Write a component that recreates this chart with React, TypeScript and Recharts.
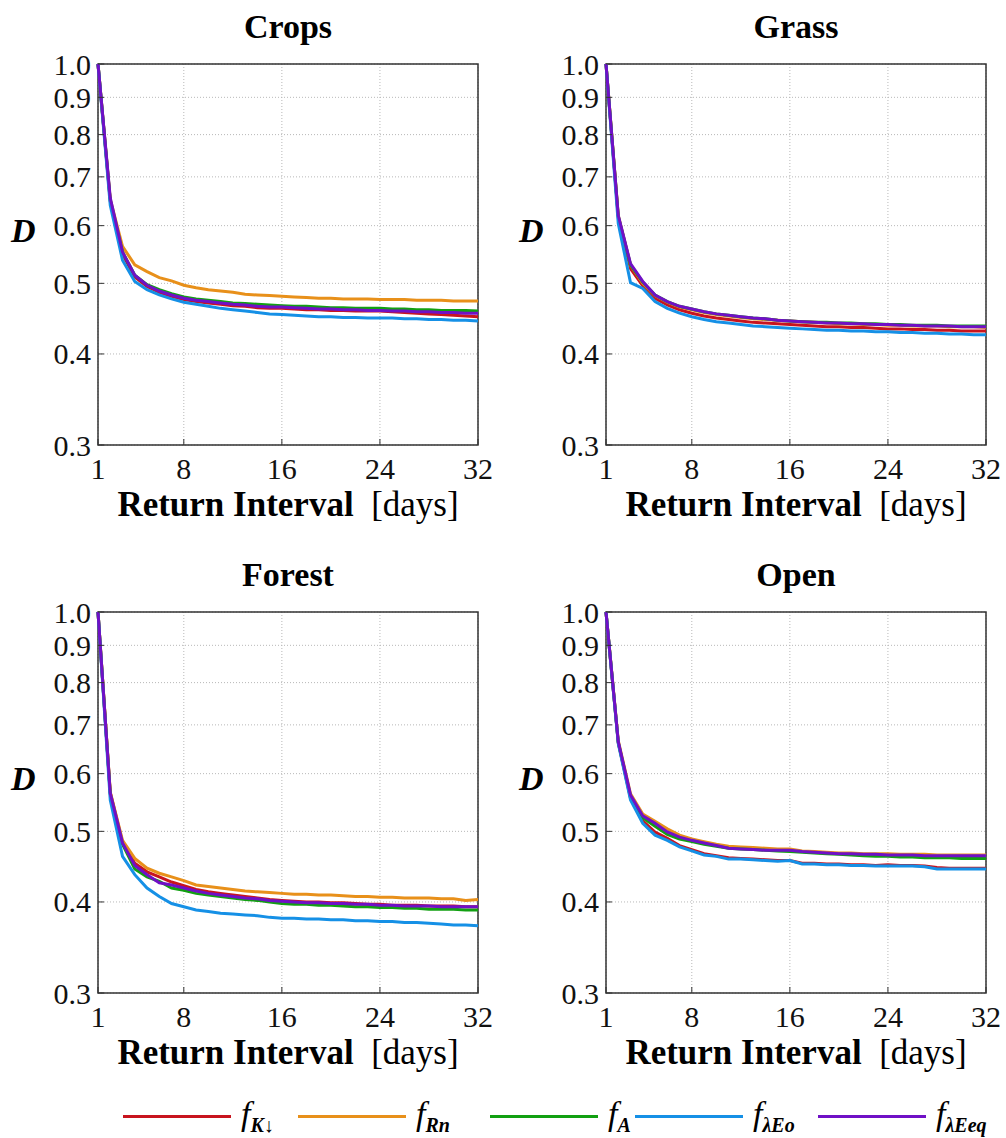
import React from 'react'
import { LineChart, Line, XAxis, YAxis, CartesianGrid, ReferenceArea } from 'recharts'

// Return interval (days)
const days = [1, 2, 3, 4, 5, 6, 7, 8, 9, 10, 11, 12, 13, 14, 15, 16, 17, 18, 19, 20, 21, 22, 23, 24, 25, 26, 27, 28, 29, 30, 31, 32]

const xTicks = [1, 8, 16, 24, 32]
const yTicks = [0.3, 0.4, 0.5, 0.6, 0.7, 0.8, 0.9, 1.0]

// Crops
const cropsK = [1.0, 0.648, 0.548, 0.510, 0.495, 0.486, 0.480, 0.475, 0.472, 0.470, 0.468, 0.466, 0.465, 0.463, 0.462, 0.462, 0.461, 0.460, 0.460, 0.459, 0.459, 0.458, 0.458, 0.458, 0.457, 0.456, 0.455, 0.454, 0.453, 0.452, 0.451, 0.450]
const cropsRn = [1.0, 0.652, 0.562, 0.530, 0.519, 0.509, 0.504, 0.497, 0.493, 0.490, 0.488, 0.486, 0.483, 0.482, 0.481, 0.480, 0.479, 0.478, 0.477, 0.477, 0.476, 0.476, 0.476, 0.475, 0.475, 0.475, 0.474, 0.474, 0.474, 0.473, 0.473, 0.473]
const cropsA = [1.0, 0.650, 0.552, 0.513, 0.498, 0.490, 0.484, 0.479, 0.476, 0.474, 0.472, 0.470, 0.469, 0.468, 0.467, 0.466, 0.465, 0.465, 0.464, 0.463, 0.463, 0.462, 0.462, 0.462, 0.461, 0.461, 0.460, 0.460, 0.459, 0.459, 0.459, 0.458]
const cropsEo = [1.0, 0.640, 0.538, 0.503, 0.490, 0.482, 0.476, 0.471, 0.468, 0.465, 0.462, 0.460, 0.458, 0.456, 0.454, 0.453, 0.452, 0.451, 0.450, 0.450, 0.449, 0.449, 0.448, 0.448, 0.448, 0.447, 0.447, 0.446, 0.446, 0.445, 0.445, 0.444]
const cropsEeq = [1.0, 0.655, 0.552, 0.513, 0.497, 0.488, 0.482, 0.477, 0.474, 0.472, 0.470, 0.468, 0.467, 0.465, 0.464, 0.464, 0.463, 0.462, 0.461, 0.461, 0.460, 0.460, 0.459, 0.459, 0.458, 0.458, 0.457, 0.457, 0.456, 0.456, 0.455, 0.455]

// Grass
const grassK = [1.0, 0.615, 0.524, 0.496, 0.477, 0.467, 0.460, 0.455, 0.451, 0.448, 0.446, 0.444, 0.442, 0.441, 0.440, 0.439, 0.438, 0.437, 0.436, 0.436, 0.435, 0.435, 0.434, 0.433, 0.433, 0.432, 0.432, 0.431, 0.431, 0.430, 0.430, 0.430]
const grassRn = [1.0, 0.620, 0.530, 0.500, 0.481, 0.471, 0.464, 0.460, 0.456, 0.453, 0.451, 0.449, 0.447, 0.446, 0.445, 0.444, 0.443, 0.442, 0.441, 0.440, 0.440, 0.439, 0.439, 0.438, 0.438, 0.437, 0.437, 0.437, 0.436, 0.436, 0.436, 0.435]
const grassA = [1.0, 0.618, 0.530, 0.502, 0.482, 0.472, 0.465, 0.461, 0.457, 0.454, 0.452, 0.450, 0.448, 0.447, 0.445, 0.444, 0.443, 0.442, 0.442, 0.441, 0.441, 0.440, 0.440, 0.439, 0.439, 0.438, 0.438, 0.438, 0.437, 0.437, 0.437, 0.437]
const grassEo = [1.0, 0.604, 0.501, 0.492, 0.472, 0.462, 0.455, 0.450, 0.446, 0.443, 0.441, 0.439, 0.437, 0.436, 0.435, 0.434, 0.433, 0.432, 0.431, 0.431, 0.430, 0.430, 0.429, 0.429, 0.428, 0.428, 0.427, 0.427, 0.426, 0.426, 0.425, 0.425]
const grassEeq = [1.0, 0.620, 0.532, 0.503, 0.482, 0.472, 0.465, 0.461, 0.457, 0.454, 0.452, 0.450, 0.448, 0.447, 0.445, 0.444, 0.443, 0.442, 0.441, 0.441, 0.440, 0.440, 0.439, 0.439, 0.438, 0.438, 0.437, 0.437, 0.437, 0.436, 0.436, 0.436]

// Forest
const forestK = [1.0, 0.565, 0.483, 0.452, 0.440, 0.433, 0.426, 0.421, 0.416, 0.413, 0.411, 0.409, 0.407, 0.405, 0.403, 0.402, 0.401, 0.400, 0.400, 0.399, 0.399, 0.398, 0.397, 0.397, 0.396, 0.396, 0.396, 0.395, 0.395, 0.395, 0.394, 0.394]
const forestRn = [1.0, 0.566, 0.486, 0.459, 0.445, 0.438, 0.433, 0.428, 0.422, 0.420, 0.418, 0.416, 0.414, 0.413, 0.412, 0.411, 0.410, 0.410, 0.409, 0.409, 0.408, 0.407, 0.407, 0.406, 0.406, 0.405, 0.405, 0.405, 0.404, 0.404, 0.402, 0.403]
const forestA = [1.0, 0.562, 0.480, 0.444, 0.433, 0.427, 0.418, 0.415, 0.411, 0.409, 0.407, 0.405, 0.403, 0.402, 0.400, 0.398, 0.397, 0.397, 0.396, 0.396, 0.395, 0.394, 0.394, 0.393, 0.393, 0.392, 0.392, 0.391, 0.391, 0.391, 0.390, 0.390]
const forestEo = [1.0, 0.552, 0.462, 0.436, 0.418, 0.407, 0.398, 0.394, 0.390, 0.388, 0.386, 0.385, 0.384, 0.383, 0.381, 0.380, 0.380, 0.379, 0.379, 0.378, 0.378, 0.377, 0.377, 0.376, 0.376, 0.375, 0.375, 0.374, 0.373, 0.372, 0.372, 0.371]
const forestEeq = [1.0, 0.564, 0.482, 0.449, 0.436, 0.425, 0.422, 0.418, 0.414, 0.411, 0.409, 0.407, 0.405, 0.404, 0.402, 0.401, 0.400, 0.399, 0.399, 0.398, 0.398, 0.397, 0.397, 0.396, 0.396, 0.395, 0.395, 0.395, 0.394, 0.394, 0.394, 0.394]

// Open
const openK = [1.0, 0.662, 0.555, 0.517, 0.499, 0.489, 0.478, 0.472, 0.466, 0.463, 0.460, 0.459, 0.458, 0.457, 0.456, 0.456, 0.452, 0.452, 0.451, 0.451, 0.450, 0.450, 0.449, 0.450, 0.449, 0.449, 0.448, 0.446, 0.445, 0.445, 0.445, 0.445]
const openRn = [1.0, 0.666, 0.563, 0.528, 0.516, 0.504, 0.494, 0.488, 0.484, 0.480, 0.477, 0.476, 0.475, 0.474, 0.473, 0.473, 0.470, 0.469, 0.468, 0.467, 0.467, 0.466, 0.466, 0.466, 0.465, 0.465, 0.465, 0.464, 0.464, 0.464, 0.464, 0.464]
const openA = [1.0, 0.662, 0.558, 0.522, 0.508, 0.495, 0.488, 0.484, 0.480, 0.477, 0.474, 0.473, 0.472, 0.471, 0.470, 0.469, 0.468, 0.467, 0.466, 0.465, 0.464, 0.463, 0.462, 0.462, 0.461, 0.461, 0.460, 0.460, 0.460, 0.459, 0.459, 0.459]
const openEo = [1.0, 0.660, 0.552, 0.513, 0.494, 0.486, 0.476, 0.470, 0.464, 0.462, 0.458, 0.458, 0.457, 0.456, 0.455, 0.456, 0.451, 0.451, 0.450, 0.450, 0.449, 0.449, 0.448, 0.448, 0.448, 0.448, 0.447, 0.444, 0.444, 0.444, 0.444, 0.444]
const openEeq = [1.0, 0.664, 0.561, 0.525, 0.513, 0.499, 0.491, 0.486, 0.482, 0.478, 0.474, 0.473, 0.472, 0.471, 0.471, 0.471, 0.469, 0.468, 0.467, 0.466, 0.466, 0.465, 0.465, 0.464, 0.464, 0.464, 0.463, 0.463, 0.463, 0.463, 0.463, 0.463]

const SERIES = [
  { key: 'k', color: '#C8141E', sub: 'K↓' },
  { key: 'rn', color: '#E8901A', sub: 'Rn' },
  { key: 'a', color: '#12A012', sub: 'A' },
  { key: 'eo', color: '#1590E6', sub: 'λEo' },
  { key: 'eeq', color: '#7010C6', sub: 'λEeq' },
]

const FONT = "'Liberation Serif', 'Times New Roman', serif"

const buildRows = (k: number[], rn: number[], a: number[], eo: number[], eeq: number[]) =>
  days.map((d, i) => ({ x: d, k: k[i], rn: rn[i], a: a[i], eo: eo[i], eeq: eeq[i] }))

const panels = [
  { title: 'Crops', left: 0, top: 0, data: buildRows(cropsK, cropsRn, cropsA, cropsEo, cropsEeq) },
  { title: 'Grass', left: 508, top: 0, data: buildRows(grassK, grassRn, grassA, grassEo, grassEeq) },
  { title: 'Forest', left: 0, top: 548, data: buildRows(forestK, forestRn, forestA, forestEo, forestEeq) },
  { title: 'Open', left: 508, top: 548, data: buildRows(openK, openRn, openA, openEo, openEeq) },
]

const tickText = { fontFamily: FONT, fontSize: 30, fill: '#111' }

const XTick = ({ x, y, payload }: any) => (
  <text x={x} y={y} dy="0.75em" textAnchor="middle" style={tickText}>
    {payload.value}
  </text>
)

const YTick = ({ x, y, payload }: any) => (
  <text x={x} y={y} dy="0.35em" textAnchor="end" style={tickText}>
    {Number(payload.value).toFixed(1)}
  </text>
)

const tickLineStyle = { stroke: '#333', strokeWidth: 1 }

function Panel({ title, left, top, data }: any) {
  return (
    <div style={{ position: 'absolute', left, top, width: 498, height: 530, fontFamily: FONT }}>
      <LineChart width={498} height={530} data={data} margin={{ top: 64, right: 20, left: 0, bottom: 0 }}>
        <CartesianGrid stroke="#b8b8b8" strokeDasharray="1 2" />
        <XAxis
          dataKey="x"
          type="number"
          domain={[1, 32]}
          ticks={xTicks}
          height={85}
          tickSize={-6}
          tickMargin={17}
          axisLine={false}
          tickLine={tickLineStyle}
          tick={XTick}
          interval={0}
        />
        <XAxis
          xAxisId="top"
          orientation="top"
          dataKey="x"
          type="number"
          domain={[1, 32]}
          ticks={xTicks}
          height={0}
          tickSize={-6}
          axisLine={false}
          tickLine={tickLineStyle}
          tick={false}
          interval={0}
        />
        <YAxis
          type="number"
          scale="log"
          domain={[0.3, 1]}
          ticks={yTicks}
          allowDataOverflow
          width={98}
          tickSize={-6}
          tickMargin={13}
          axisLine={false}
          tickLine={tickLineStyle}
          tick={YTick}
          interval={0}
        />
        <YAxis
          yAxisId="right"
          orientation="right"
          type="number"
          scale="log"
          domain={[0.3, 1]}
          ticks={yTicks}
          allowDataOverflow
          width={0}
          tickSize={-6}
          axisLine={false}
          tickLine={tickLineStyle}
          tick={false}
          interval={0}
        />
        <ReferenceArea x1={1} x2={32} y1={0.3} y2={1} fill="none" stroke="#333" strokeWidth={1.5} ifOverflow="visible" />
        {SERIES.map(s => (
          <Line
            key={s.key}
            type="linear"
            dataKey={s.key}
            stroke={s.color}
            strokeWidth={3}
            dot={false}
            isAnimationActive={false}
          />
        ))}
      </LineChart>
      <div style={{ position: 'absolute', left: 98, width: 380, top: 8, textAlign: 'center', fontWeight: 'bold', fontSize: 34 }}>
        {title}
      </div>
      <div style={{ position: 'absolute', left: 11, top: 212, fontWeight: 'bold', fontStyle: 'italic', fontSize: 34 }}>
        D
      </div>
      <div style={{ position: 'absolute', left: 98, width: 380, top: 485, textAlign: 'center', fontSize: 35, whiteSpace: 'nowrap' }}>
        <b>Return Interval</b>&nbsp;&nbsp;[days]
      </div>
    </div>
  )
}

const legendLefts = [123, 298, 490, 635, 818]

export default function App() {
  return (
    <div style={{ position: 'absolute', left: 0, top: 0, width: 1006, height: 1138, background: '#fff', overflow: 'hidden', fontFamily: FONT }}>
      {panels.map(p => (
        <Panel key={p.title} {...p} />
      ))}
      {SERIES.map((s, i) => (
        <div key={s.key} style={{ position: 'absolute', left: legendLefts[i], top: 1096, height: 40, display: 'flex', alignItems: 'center' }}>
          <div style={{ width: 108, height: 3, background: s.color }} />
          <span style={{ marginLeft: 10, fontStyle: 'italic', fontSize: 34, whiteSpace: 'nowrap' }}>
            f<sub style={{ fontSize: 20, fontWeight: 'bold', verticalAlign: '-0.35em' }}>{s.sub}</sub>
          </span>
        </div>
      ))}
    </div>
  )
}
